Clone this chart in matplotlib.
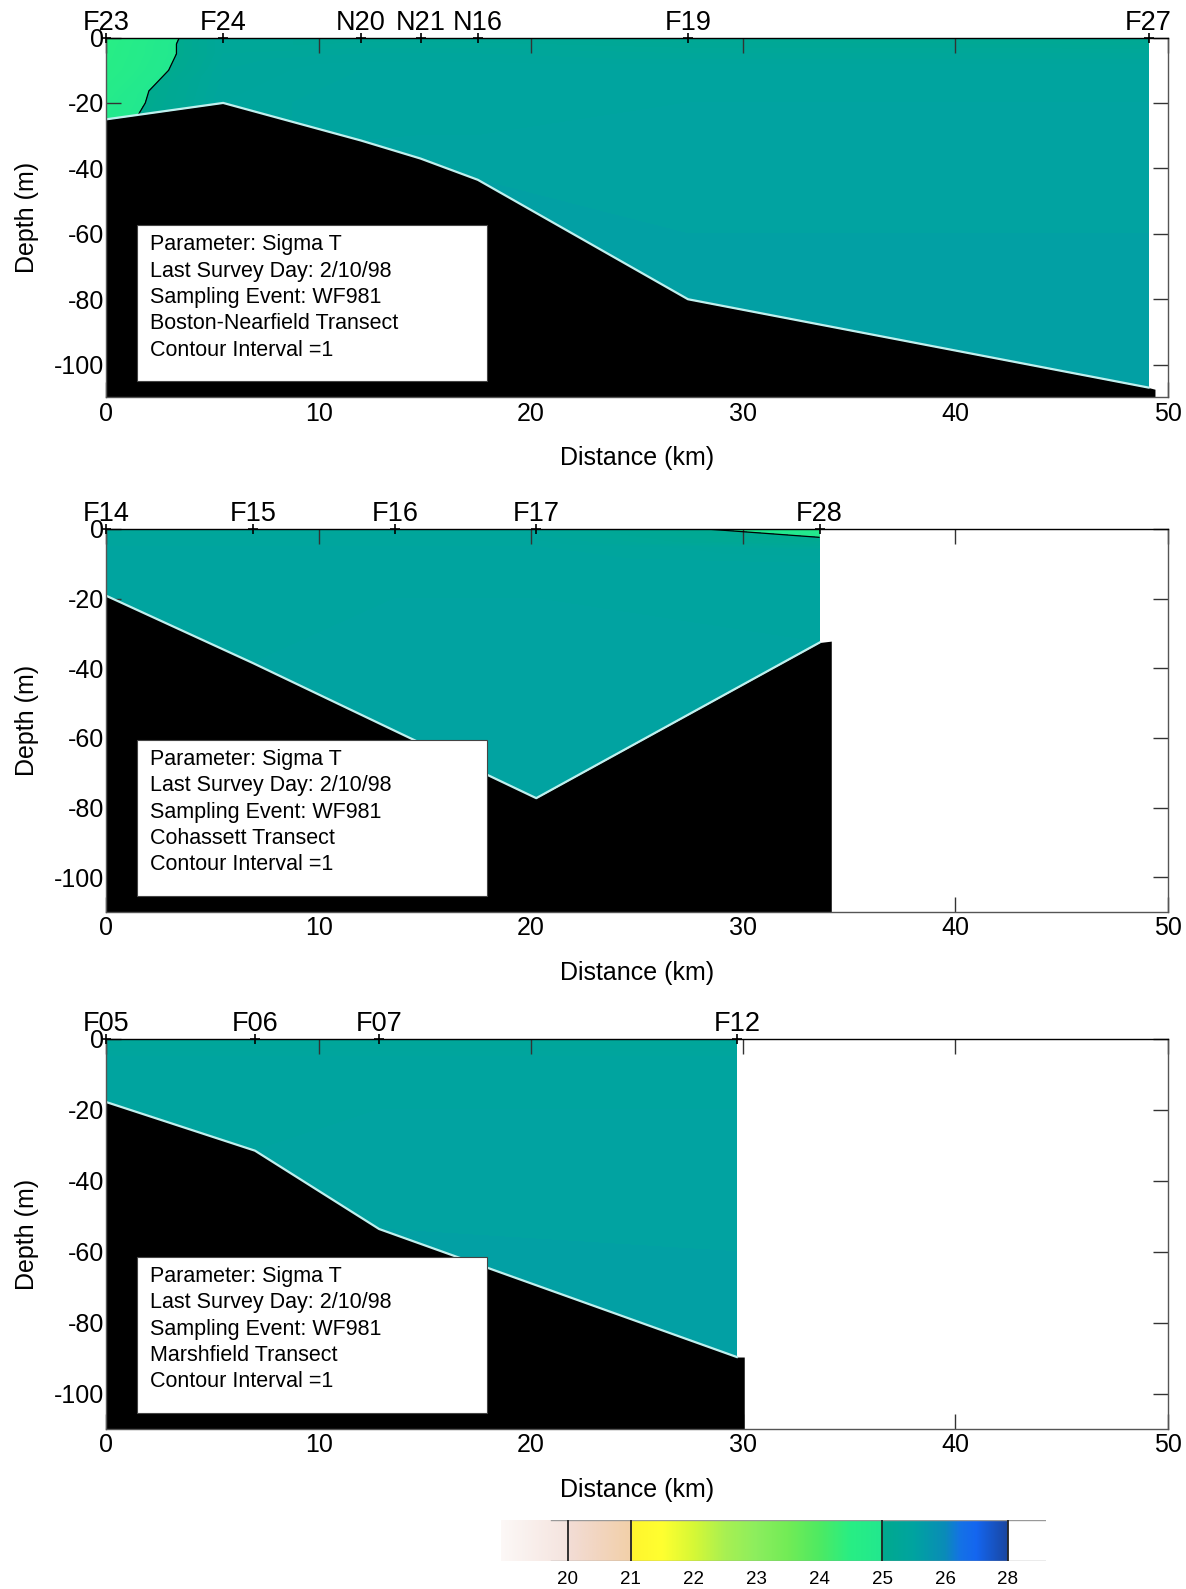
import numpy as np
import matplotlib
matplotlib.use("Agg")
import matplotlib.pyplot as plt
import matplotlib.tri as mtri
from matplotlib.colors import LinearSegmentedColormap, Normalize
from matplotlib.patches import Rectangle
from matplotlib.transforms import offset_copy

plt.rcParams['font.family'] = ['Liberation Sans', 'DejaVu Sans']

# ---------------- data ----------------
INFO_COMMON = ["Parameter: Sigma T", "Last Survey Day: 2/10/98", "Sampling Event: WF981"]
TRANSECTS = ["Boston-Nearfield Transect", "Cohassett Transect", "Marshfield Transect"]
CONTOUR_TXT = "Contour Interval =1"

# Panel 1: Boston-Nearfield
P1_NAMES = ['F23', 'F24', 'N20', 'N21', 'N16', 'F19', 'F27']
P1_X = [0.0, 5.5, 12.0, 14.8, 17.5, 27.4, 49.1]
P1_DEPTHS = [
    [0, -5, -10, -20, -25],
    [0, -5, -10, -20],
    [0, -5, -10, -20, -31.5],
    [0, -5, -10, -20, -30, -37],
    [0, -5, -10, -20, -30, -43.5],
    [0, -5, -10, -20, -40, -60, -80],
    [0, -5, -10, -20, -40, -60, -80, -107],
]
P1_SIGMA = [
    [24.5, 24.55, 24.6, 24.8, 24.85],
    [25.3, 25.3, 25.35, 25.4],
    [25.2, 25.35, 25.45, 25.5, 25.5],
    [25.2, 25.35, 25.45, 25.5, 25.5, 25.55],
    [25.2, 25.35, 25.45, 25.5, 25.5, 25.55],
    [25.15, 25.3, 25.45, 25.5, 25.55, 25.55, 25.6],
    [25.1, 25.3, 25.45, 25.5, 25.55, 25.55, 25.6, 25.6],
]
P1_BATHY_X = [0.0, 5.5, 12.0, 14.8, 17.5, 27.4, 49.1, 49.4]
P1_BATHY_Z = [-25, -20, -31.5, -37, -43.5, -80, -107, -107.5]

# Panel 2: Cohassett
P2_NAMES = ['F14', 'F15', 'F16', 'F17', 'F28']
P2_X = [0.0, 6.9, 13.6, 20.25, 33.6]
P2_DEPTHS = [
    [0, -5, -10, -19.2],
    [0, -5, -10, -20, -38.5],
    [0, -5, -10, -20, -40, -58],
    [0, -5, -10, -20, -40, -60, -77.3],
    [0, -3, -6, -10, -20, -32.6],
]
P2_SIGMA = [
    [25.3, 25.45, 25.5, 25.5],
    [25.3, 25.45, 25.5, 25.5, 25.5],
    [25.3, 25.45, 25.5, 25.5, 25.55, 25.55],
    [25.3, 25.45, 25.5, 25.5, 25.55, 25.55, 25.55],
    [24.8, 25.05, 25.35, 25.45, 25.5, 25.5],
]
P2_BATHY_X = [0.0, 6.9, 13.6, 20.25, 33.6, 34.15]
P2_BATHY_Z = [-19.2, -38.5, -58, -77.3, -32.6, -32.2]

# Panel 3: Marshfield
P3_NAMES = ['F05', 'F06', 'F07', 'F12']
P3_X = [0.0, 7.0, 12.85, 29.7]
P3_DEPTHS = [
    [0, -5, -10, -17.8],
    [0, -5, -10, -20, -31.5],
    [0, -5, -10, -20, -40, -53.6],
    [0, -5, -10, -20, -40, -60, -89.7],
]
P3_SIGMA = [
    [25.3, 25.45, 25.5, 25.5],
    [25.3, 25.45, 25.5, 25.5, 25.5],
    [25.3, 25.45, 25.5, 25.5, 25.55, 25.55],
    [25.3, 25.45, 25.5, 25.5, 25.55, 25.55, 25.6],
]
P3_BATHY_X = [0.0, 7.0, 12.85, 29.7, 30.05]
P3_BATHY_Z = [-17.8, -31.5, -53.6, -89.7, -89.7]

X_TICKS = [0, 10, 20, 30, 40, 50]
Y_TICKS = [0, -20, -40, -60, -80, -100]

CBAR_VALUES = [20, 21, 22, 23, 24, 25, 26, 28]
CBAR_LABELS = ['20', '21', '22', '23', '24', '25', '26', '28']
CBAR_LINES = [20, 21, 25, 28]

# ---------------- colormap ----------------
CMAP_NODES = [20.0, 20.5, 21.0, 21.02, 21.5, 22.0, 22.5, 23.0, 23.5, 24.0, 24.5, 24.98,
              25.0, 25.5, 26.0, 26.5, 27.0, 28.0]
CMAP_COLORS = ['#f2ddd6', '#f2d5bf', '#f3d0a8', '#fff52e', '#ffff30', '#d6f836', '#a8f052',
               '#8cee5e', '#72ec56', '#4eea62', '#28ee84', '#22e88e',
               '#00aa8e', '#00a4a0', '#0a8cb8', '#1472e6', '#1466f0', '#1a46a0']
VMIN, VMAX = 20.0, 28.0
cmap = LinearSegmentedColormap.from_list(
    'sig', list(zip([(v - VMIN) / (VMAX - VMIN) for v in CMAP_NODES], CMAP_COLORS)), N=1024)
norm = Normalize(VMIN, VMAX)

W, H = 1186, 1589
fig = plt.figure(figsize=(W / 100, H / 100), dpi=100)

AX_LEFT, AX_RIGHT = 106.4, 1167.7
PANELS = [(37.5, 397.4), (529.0, 912.0), (1039.0, 1429.0)]

panel_data = [
    (P1_NAMES, P1_X, P1_DEPTHS, P1_SIGMA, P1_BATHY_X, P1_BATHY_Z),
    (P2_NAMES, P2_X, P2_DEPTHS, P2_SIGMA, P2_BATHY_X, P2_BATHY_Z),
    (P3_NAMES, P3_X, P3_DEPTHS, P3_SIGMA, P3_BATHY_X, P3_BATHY_Z),
]

levels = np.arange(24.0, 26.01, 0.05)

for i, ((top, bot), (names, sx, depths, sig, bx, bz)) in enumerate(zip(PANELS, panel_data)):
    ax = fig.add_axes([AX_LEFT / W, 1 - bot / H, (AX_RIGHT - AX_LEFT) / W, (bot - top) / H])
    hpx = bot - top
    ax.set_xlim(0, 50)
    ax.set_ylim(-110, 0)

    xs, zs, vs = [], [], []
    for x0, dl, sl in zip(sx, depths, sig):
        for d, s in zip(dl, sl):
            xs.append(x0); zs.append(d); vs.append(s)
    tri = mtri.Triangulation(np.array(xs), np.array(zs))
    ax.tricontourf(tri, np.array(vs), levels=levels, cmap=cmap, norm=norm, zorder=1)
    ax.tricontour(tri, np.array(vs), levels=[25.0], colors='black', linewidths=0.9, zorder=2)

    ax.fill_between(bx, bz, -110, color='black', zorder=3, linewidth=0)
    ax.plot(sx, [dl[-1] for dl in depths], color='#bff0ee', lw=1.6, zorder=4)

    # station markers and labels
    ax.plot(sx, [0] * len(sx), linestyle='none', marker='+', color='black', ms=7, mew=1.2,
            clip_on=False, zorder=6)
    for nm, x0 in zip(names, sx):
        ax.text(x0, 0, nm, ha='center', va='bottom', fontsize=19.5,
                transform=offset_copy(ax.transData, fig, x=0, y=2, units='dots'), zorder=7)

    ax.set_xticks(X_TICKS)
    ax.set_yticks(Y_TICKS)
    ax.set_xticklabels([str(t) for t in X_TICKS], fontsize=18)
    ax.set_yticklabels([str(t) for t in Y_TICKS], fontsize=18)
    ax.tick_params(direction='in', length=11, width=1.0, top=True, right=True,
                   pad=3, colors='#333333', labelcolor='black')
    ax.tick_params(axis='y', pad=1.5)
    for s in ax.spines.values():
        s.set_color('#555555')
        s.set_linewidth(1.0)
        s.set_zorder(5)
    ax.spines['top'].set_color('black')

    # axis labels
    ax.text(0.5, -61.0 / hpx, 'Distance (km)', transform=ax.transAxes, ha='center', va='center',
            fontsize=18)
    ax.text(-79.0 / (AX_RIGHT - AX_LEFT), 0.5, 'Depth (m)', transform=ax.transAxes,
            ha='center', va='center', rotation=90, fontsize=18)

    # info box
    bx0 = 30.5 / (AX_RIGHT - AX_LEFT)
    bw = 350.0 / (AX_RIGHT - AX_LEFT)
    b_bot = 16.0 / hpx
    b_h = 156.0 / hpx
    ax.add_patch(Rectangle((bx0, b_bot), bw, b_h, transform=ax.transAxes, facecolor='white',
                           edgecolor='#444444', linewidth=0.8, zorder=8))
    lines = INFO_COMMON + [TRANSECTS[i], CONTOUR_TXT]
    for k, ln in enumerate(lines):
        yy = (16.0 + 156.0 - 19.3 - 26.4 * k) / hpx
        ax.text(bx0 + 13.5 / (AX_RIGHT - AX_LEFT), yy, ln, transform=ax.transAxes,
                ha='left', va='center', fontsize=15.5, zorder=9)

# ---------------- colorbar ----------------
unit = (1008.0 - 568.0) / 7.0
cx0 = -(568.0 - 501.0) / unit
cx1 = (1046.0 - 568.0) / unit
cax = fig.add_axes([501.0 / W, 1 - 1561.0 / H, (1046.0 - 501.0) / W, 41.0 / H])
cax.set_xlim(cx0, cx1)
cax.set_ylim(0, 1)
cax.axis('off')
idx = np.linspace(cx0, cx1, 800)
sigvals = np.interp(np.clip(idx, 0, len(CBAR_VALUES) - 1), np.arange(len(CBAR_VALUES)), CBAR_VALUES)
rgb = cmap(norm(sigvals))[:, :3]
fade = np.ones_like(idx)
fade[idx < 0] = np.clip(1 + idx[idx < 0] / abs(cx0), 0, 1) * 0.6 + 0.2
rgb = rgb * fade[:, None] + (1 - fade[:, None]) * 1.0
rgb[idx > len(CBAR_VALUES) - 1] = 1.0
img = np.repeat(rgb[None, :, :], 2, axis=0)
cax.imshow(img, extent=[cx0, cx1, 0, 1], aspect='auto', interpolation='bilinear')
xl0 = -(568.0 - 551.0) / unit
cax.plot([xl0, cx1], [0.99, 0.99], color='#999999', lw=1.0)
cax.plot([xl0, cx1], [0.01, 0.01], color='#999999', lw=1.0)
for v in CBAR_LINES:
    p = CBAR_VALUES.index(v)
    cax.plot([p, p], [0, 1], color='#222222', lw=1.3)
for p, lab in enumerate(CBAR_LABELS):
    cax.text(p, -0.45, lab, ha='center', va='center', fontsize=13.5)

fig.savefig('out.png', dpi=100)
